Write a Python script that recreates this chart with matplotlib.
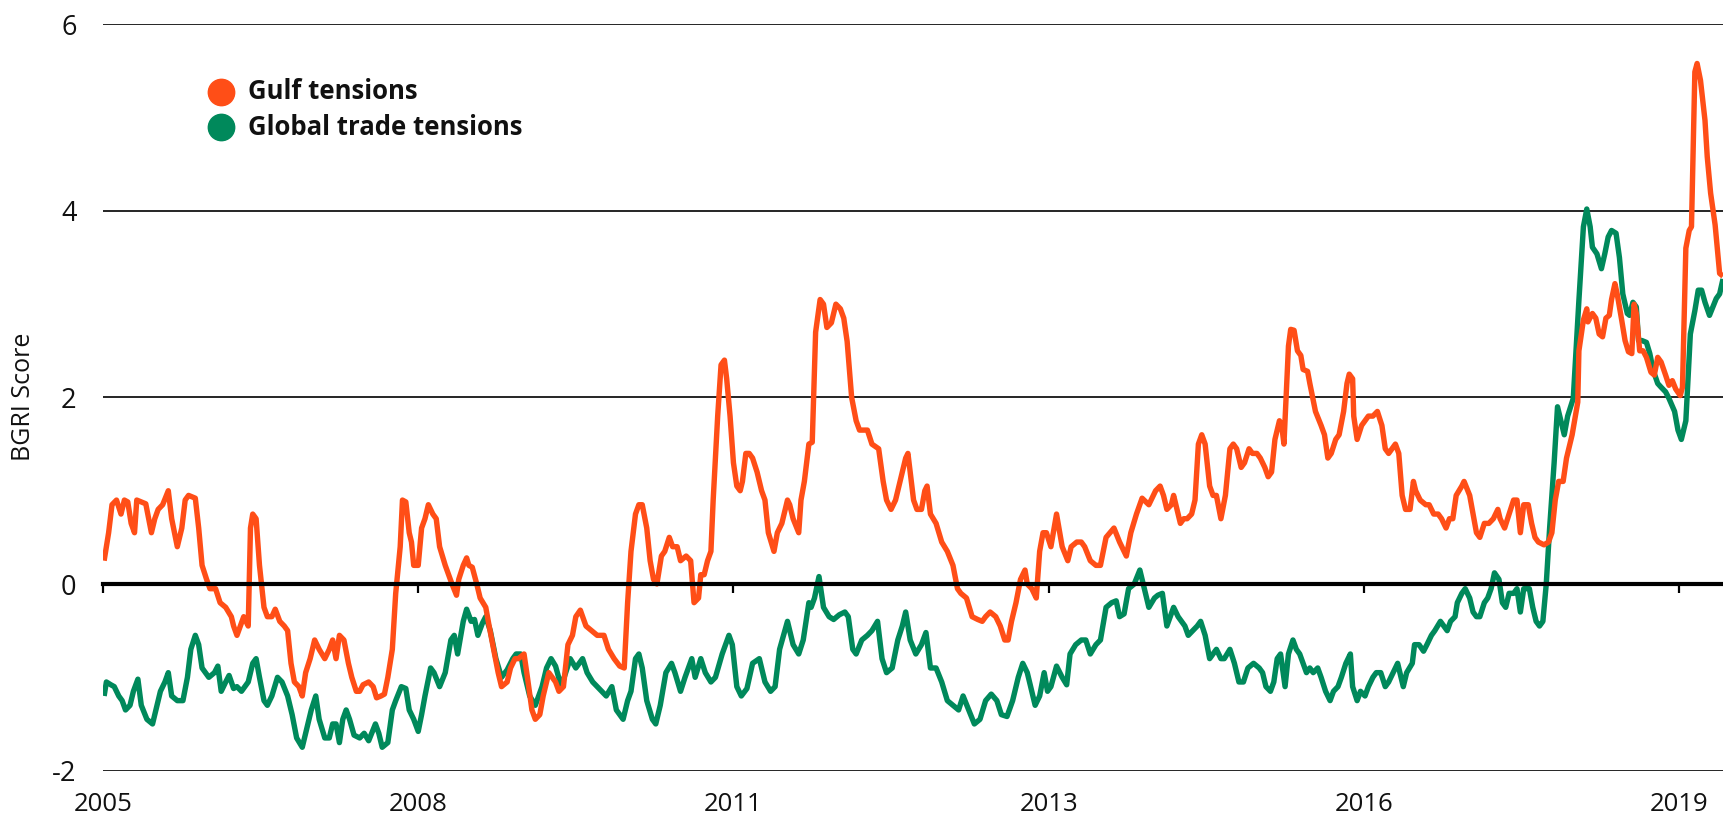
import matplotlib
matplotlib.use("Agg")
import matplotlib.pyplot as plt
from matplotlib.transforms import blended_transform_factory

plt.rcParams['font.family'] = ['Open Sans', 'DejaVu Sans']

# ---------------- data ----------------
series_names = ["Gulf tensions", "Global trade tensions"]
series_colors = ["#FF4E17", "#00895B"]

gulf_years = [
    2005.01, 2005.05, 2005.08, 2005.12, 2005.16, 2005.19, 2005.22, 2005.25, 2005.28, 2005.30,
    2005.34, 2005.38, 2005.43, 2005.46, 2005.49, 2005.53, 2005.58, 2005.61, 2005.66, 2005.70,
    2005.73, 2005.76, 2005.82, 2005.85, 2005.88, 2005.92, 2005.95, 2006.00, 2006.04, 2006.09,
    2006.14, 2006.16, 2006.19, 2006.22, 2006.25, 2006.29, 2006.31, 2006.33, 2006.36, 2006.39,
    2006.43, 2006.46, 2006.50, 2006.53, 2006.57, 2006.61, 2006.64, 2006.67, 2006.70, 2006.74,
    2006.77, 2006.80, 2006.84, 2006.88, 2006.92, 2006.97, 2007.01, 2007.04, 2007.07, 2007.10,
    2007.14, 2007.18, 2007.21, 2007.25, 2007.28, 2007.31, 2007.36, 2007.40, 2007.43, 2007.47,
    2007.50, 2007.53, 2007.57, 2007.60, 2007.64, 2007.66, 2007.69, 2007.72, 2007.74, 2007.76,
    2007.80, 2007.83, 2007.86, 2007.89, 2007.93, 2007.96, 2007.99, 2008.04, 2008.10, 2008.14,
    2008.16, 2008.20, 2008.23, 2008.25, 2008.28, 2008.32, 2008.35, 2008.40, 2008.43, 2008.47,
    2008.51, 2008.54, 2008.59, 2008.62, 2008.66, 2008.69, 2008.74, 2008.77, 2008.81, 2008.84,
    2008.88, 2008.91, 2008.96, 2009.02, 2009.05, 2009.09, 2009.13, 2009.17, 2009.20, 2009.24,
    2009.29, 2009.34, 2009.39, 2009.45, 2009.49, 2009.54, 2009.59, 2009.63, 2009.66, 2009.69,
    2009.73, 2009.76, 2009.79, 2009.83, 2009.86, 2009.89, 2009.92, 2009.96, 2009.99, 2010.03,
    2010.06, 2010.10, 2010.13, 2010.18, 2010.22, 2010.25, 2010.29, 2010.31, 2010.34, 2010.37,
    2010.40, 2010.42, 2010.46, 2010.49, 2010.52, 2010.54, 2010.57, 2010.60, 2010.63, 2010.66,
    2010.68, 2010.71, 2010.74, 2010.77, 2010.81, 2010.85, 2010.88, 2010.91, 2010.96, 2010.99,
    2011.03, 2011.08, 2011.10, 2011.13, 2011.18, 2011.20, 2011.23, 2011.27, 2011.30, 2011.33,
    2011.37, 2011.40, 2011.43, 2011.47, 2011.51, 2011.55, 2011.58, 2011.61, 2011.65, 2011.69,
    2011.72, 2011.79, 2011.83, 2011.89, 2011.93, 2011.96, 2012.00, 2012.04, 2012.08, 2012.13,
    2012.15, 2012.18, 2012.20, 2012.23, 2012.27, 2012.30, 2012.32, 2012.35, 2012.40, 2012.45,
    2012.50, 2012.55, 2012.59, 2012.62, 2012.67, 2012.72, 2012.77, 2012.81, 2012.84, 2012.88,
    2012.93, 2012.97, 2013.01, 2013.04, 2013.07, 2013.11, 2013.15, 2013.19, 2013.21, 2013.25,
    2013.29, 2013.32, 2013.35, 2013.38, 2013.42, 2013.47, 2013.52, 2013.57, 2013.60, 2013.65,
    2013.69, 2013.72, 2013.77, 2013.82, 2013.86, 2013.91, 2013.98, 2014.03, 2014.09, 2014.13,
    2014.18, 2014.23, 2014.29, 2014.35, 2014.39, 2014.42, 2014.45, 2014.49, 2014.51, 2014.53,
    2014.57, 2014.60, 2014.63, 2014.67, 2014.70, 2014.73, 2014.76, 2014.79, 2014.83, 2014.86,
    2014.89, 2014.93, 2014.97, 2015.01, 2015.04, 2015.07, 2015.11, 2015.14, 2015.18, 2015.21,
    2015.25, 2015.28, 2015.32, 2015.35, 2015.38, 2015.41, 2015.45, 2015.47, 2015.49, 2015.53,
    2015.55, 2015.58, 2015.61, 2015.64, 2015.66, 2015.70, 2015.72, 2015.77, 2015.82, 2015.85,
    2015.88, 2015.91, 2015.95, 2015.98, 2016.02, 2016.05, 2016.07, 2016.10, 2016.11, 2016.14,
    2016.18, 2016.21, 2016.24, 2016.28, 2016.32, 2016.36, 2016.39, 2016.42, 2016.45, 2016.48,
    2016.51, 2016.54, 2016.57, 2016.61, 2016.64, 2016.66, 2016.70, 2016.75, 2016.78, 2016.82,
    2016.86, 2016.89, 2016.93, 2016.96, 2016.99, 2017.02, 2017.07, 2017.09, 2017.14, 2017.17,
    2017.20, 2017.23, 2017.27, 2017.31, 2017.35, 2017.39, 2017.41, 2017.45, 2017.49, 2017.53,
    2017.56, 2017.59, 2017.62, 2017.66, 2017.69, 2017.72, 2017.75, 2017.80, 2017.84, 2017.87,
    2017.90, 2017.93, 2017.97, 2018.00, 2018.05, 2018.10, 2018.11, 2018.15, 2018.18, 2018.19,
    2018.23, 2018.26, 2018.29, 2018.32, 2018.35, 2018.38, 2018.40, 2018.43, 2018.45, 2018.49,
    2018.52, 2018.55, 2018.58, 2018.60, 2018.62, 2018.65, 2018.68, 2018.71, 2018.75, 2018.78,
    2018.81, 2018.84, 2018.88, 2018.91, 2018.94, 2018.97, 2019.01, 2019.03, 2019.06, 2019.09,
    2019.11, 2019.14, 2019.16, 2019.19, 2019.21, 2019.23, 2019.25, 2019.28, 2019.32, 2019.36,
    2019.39,
]
gulf_values = [
    0.25, 0.55, 0.85, 0.90, 0.75, 0.90, 0.88, 0.65, 0.55, 0.90,
    0.88, 0.86, 0.55, 0.70, 0.80, 0.85, 1.00, 0.70, 0.40, 0.60,
    0.90, 0.95, 0.92, 0.60, 0.20, 0.05, -0.05, -0.05, -0.20, -0.25,
    -0.35, -0.45, -0.55, -0.45, -0.35, -0.45, 0.60, 0.75, 0.70, 0.20,
    -0.25, -0.35, -0.35, -0.27, -0.40, -0.45, -0.50, -0.85, -1.05, -1.10,
    -1.20, -0.95, -0.80, -0.60, -0.70, -0.80, -0.70, -0.60, -0.80, -0.55,
    -0.60, -0.85, -1.00, -1.15, -1.15, -1.08, -1.05, -1.10, -1.22, -1.20,
    -1.18, -1.00, -0.70, -0.10, 0.40, 0.90, 0.88, 0.55, 0.45, 0.20,
    0.20, 0.60, 0.70, 0.85, 0.75, 0.70, 0.40, 0.20, 0.00, -0.12,
    0.05, 0.20, 0.28, 0.20, 0.18, 0.00, -0.15, -0.25, -0.45, -0.70,
    -0.95, -1.10, -1.05, -0.90, -0.80, -0.80, -0.75, -1.00, -1.35, -1.45,
    -1.40, -1.20, -0.95, -1.05, -1.15, -1.10, -0.65, -0.55, -0.35, -0.28,
    -0.45, -0.50, -0.55, -0.55, -0.70, -0.80, -0.88, -0.90, -0.20, 0.35,
    0.75, 0.85, 0.85, 0.60, 0.25, 0.05, 0.00, 0.30, 0.35, 0.50,
    0.40, 0.40, 0.25, 0.30, 0.25, -0.20, -0.15, 0.10, 0.10, 0.25,
    0.35, 0.90, 1.80, 2.35, 2.40, 2.20, 1.80, 1.30, 1.05, 1.00,
    1.10, 1.40, 1.40, 1.35, 1.20, 1.00, 0.90, 0.55, 0.35, 0.55,
    0.65, 0.90, 0.85, 0.70, 0.55, 0.90, 1.10, 1.50, 1.52, 2.70,
    3.05, 3.00, 2.75, 2.80, 3.00, 2.95, 2.85, 2.60, 2.00, 1.75,
    1.65, 1.65, 1.50, 1.45, 1.10, 0.90, 0.80, 0.90, 1.10, 1.35,
    1.40, 1.10, 0.90, 0.80, 0.80, 1.00, 1.05, 0.75, 0.65, 0.45,
    0.35, 0.20, -0.05, -0.10, -0.15, -0.35, -0.38, -0.40, -0.35, -0.30,
    -0.35, -0.45, -0.60, -0.60, -0.40, -0.20, 0.05, 0.15, 0.00, -0.05,
    -0.15, 0.35, 0.55, 0.55, 0.40, 0.75, 0.40, 0.25, 0.40, 0.45,
    0.45, 0.40, 0.25, 0.20, 0.20, 0.50, 0.60, 0.45, 0.30, 0.55,
    0.75, 0.92, 0.85, 1.00, 1.05, 0.95, 0.80, 0.85, 0.95, 0.85,
    0.65, 0.70, 0.70, 0.75, 0.90, 1.50, 1.60, 1.50, 1.05, 0.95,
    0.95, 0.70, 0.95, 1.45, 1.50, 1.45, 1.25, 1.30, 1.45, 1.40,
    1.40, 1.35, 1.25, 1.15, 1.20, 1.55, 1.75, 1.70, 1.50, 2.55,
    2.73, 2.72, 2.50, 2.45, 2.30, 2.28, 2.15, 1.85, 1.70, 1.60,
    1.35, 1.40, 1.55, 1.60, 1.85, 2.15, 2.25, 2.20, 1.80, 1.55,
    1.70, 1.75, 1.80, 1.80, 1.85, 1.70, 1.45, 1.40, 1.45, 1.50,
    1.40, 0.95, 0.80, 0.80, 1.10, 1.00, 0.90, 0.85, 0.85, 0.75,
    0.75, 0.70, 0.60, 0.70, 0.70, 0.95, 1.05, 1.10, 0.95, 0.75,
    0.55, 0.50, 0.65, 0.65, 0.70, 0.80, 0.70, 0.60, 0.75, 0.90,
    0.90, 0.55, 0.85, 0.85, 0.65, 0.50, 0.45, 0.42, 0.45, 0.55,
    0.90, 1.10, 1.10, 1.35, 1.60, 1.95, 2.50, 2.83, 2.95, 2.81,
    2.90, 2.85, 2.68, 2.65, 2.85, 2.88, 3.05, 3.22, 3.11, 2.83,
    2.61, 2.49, 2.47, 3.00, 2.90, 2.50, 2.50, 2.43, 2.27, 2.24,
    2.43, 2.38, 2.24, 2.13, 2.18, 2.09, 2.02, 2.11, 3.60, 3.79,
    3.83, 5.49, 5.58, 5.40, 5.19, 4.97, 4.58, 4.19, 3.85, 3.33,
    3.30,
]

trade_years = [
    2005.01, 2005.03, 2005.07, 2005.10, 2005.14, 2005.17, 2005.20, 2005.24, 2005.27, 2005.31,
    2005.34, 2005.39, 2005.44, 2005.48, 2005.51, 2005.55, 2005.58, 2005.61, 2005.66, 2005.71,
    2005.75, 2005.78, 2005.82, 2005.85, 2005.88, 2005.94, 2005.99, 2006.02, 2006.05, 2006.09,
    2006.12, 2006.16, 2006.19, 2006.23, 2006.26, 2006.29, 2006.33, 2006.36, 2006.39, 2006.43,
    2006.46, 2006.50, 2006.55, 2006.59, 2006.64, 2006.68, 2006.72, 2006.77, 2006.80, 2006.85,
    2006.89, 2006.92, 2006.97, 2007.01, 2007.04, 2007.07, 2007.10, 2007.13, 2007.16, 2007.19,
    2007.23, 2007.28, 2007.32, 2007.36, 2007.42, 2007.45, 2007.48, 2007.53, 2007.57, 2007.60,
    2007.65, 2007.69, 2007.72, 2007.76, 2007.80, 2007.83, 2007.86, 2007.91, 2007.94, 2007.99,
    2008.04, 2008.09, 2008.12, 2008.15, 2008.20, 2008.23, 2008.27, 2008.30, 2008.33, 2008.37,
    2008.40, 2008.44, 2008.49, 2008.54, 2008.59, 2008.64, 2008.67, 2008.71, 2008.74, 2008.79,
    2008.84, 2008.90, 2008.94, 2008.98, 2009.02, 2009.07, 2009.11, 2009.15, 2009.20, 2009.26,
    2009.30, 2009.35, 2009.39, 2009.47, 2009.52, 2009.56, 2009.62, 2009.66, 2009.69, 2009.73,
    2009.76, 2009.79, 2009.83, 2009.88, 2009.91, 2009.95, 2010.00, 2010.05, 2010.08, 2010.13,
    2010.17, 2010.23, 2010.26, 2010.31, 2010.35, 2010.40, 2010.44, 2010.50, 2010.56, 2010.59,
    2010.63, 2010.67, 2010.72, 2010.77, 2010.83, 2010.88, 2010.93, 2010.97, 2011.01, 2011.08,
    2011.13, 2011.18, 2011.22, 2011.27, 2011.29, 2011.32, 2011.36, 2011.40, 2011.45, 2011.49,
    2011.54, 2011.59, 2011.62, 2011.66, 2011.69, 2011.74, 2011.79, 2011.83, 2011.88, 2011.92,
    2011.96, 2012.01, 2012.06, 2012.10, 2012.13, 2012.17, 2012.22, 2012.27, 2012.31, 2012.35,
    2012.40, 2012.45, 2012.50, 2012.55, 2012.60, 2012.64, 2012.69, 2012.74, 2012.79, 2012.84,
    2012.89, 2012.94, 2012.98, 2013.03, 2013.08, 2013.13, 2013.17, 2013.21, 2013.25, 2013.28,
    2013.32, 2013.36, 2013.39, 2013.42, 2013.47, 2013.52, 2013.56, 2013.59, 2013.64, 2013.69,
    2013.73, 2013.77, 2013.82, 2013.86, 2013.91, 2013.96, 2014.00, 2014.03, 2014.07, 2014.11,
    2014.16, 2014.21, 2014.25, 2014.29, 2014.34, 2014.37, 2014.41, 2014.45, 2014.48, 2014.51,
    2014.55, 2014.58, 2014.61, 2014.64, 2014.68, 2014.72, 2014.75, 2014.79, 2014.83, 2014.86,
    2014.89, 2014.93, 2014.96, 2015.01, 2015.05, 2015.09, 2015.13, 2015.17, 2015.22, 2015.27,
    2015.30, 2015.33, 2015.37, 2015.40, 2015.43, 2015.46, 2015.50, 2015.53, 2015.57, 2015.60,
    2015.63, 2015.66, 2015.69, 2015.72, 2015.75, 2015.79, 2015.82, 2015.86, 2015.90, 2015.93,
    2015.97, 2016.00, 2016.04, 2016.08, 2016.10, 2016.14, 2016.17, 2016.21, 2016.24, 2016.28,
    2016.31, 2016.35, 2016.39, 2016.42, 2016.46, 2016.50, 2016.55, 2016.58, 2016.63, 2016.65,
    2016.69, 2016.73, 2016.76, 2016.80, 2016.83, 2016.88, 2016.91, 2016.94, 2016.97, 2017.01,
    2017.03, 2017.07, 2017.10, 2017.14, 2017.17, 2017.20, 2017.23, 2017.27, 2017.30, 2017.33,
    2017.36, 2017.40, 2017.43, 2017.46, 2017.49, 2017.53, 2017.56, 2017.59, 2017.62, 2017.67,
    2017.70, 2017.73, 2017.76, 2017.79, 2017.82, 2017.85, 2017.89, 2017.92, 2017.95, 2017.98,
    2018.01, 2018.06, 2018.11, 2018.15, 2018.18, 2018.21, 2018.23, 2018.27, 2018.31, 2018.34,
    2018.37, 2018.40, 2018.44, 2018.47, 2018.50, 2018.54, 2018.56, 2018.59, 2018.62, 2018.64,
    2018.67, 2018.71, 2018.74, 2018.77, 2018.81, 2018.84, 2018.88, 2018.91, 2018.96, 2018.99,
    2019.02, 2019.06, 2019.10, 2019.14, 2019.17, 2019.20, 2019.23, 2019.27, 2019.30, 2019.33,
    2019.36, 2019.39,
]
trade_values = [
    -1.20, -1.05, -1.08, -1.10, -1.20, -1.25, -1.35, -1.30, -1.15, -1.02,
    -1.30, -1.45, -1.50, -1.30, -1.15, -1.05, -0.95, -1.20, -1.25, -1.25,
    -1.00, -0.70, -0.55, -0.65, -0.90, -1.00, -0.95, -0.88, -1.15, -1.05,
    -0.98, -1.12, -1.10, -1.15, -1.10, -1.05, -0.85, -0.80, -1.00, -1.25,
    -1.30, -1.20, -1.00, -1.05, -1.20, -1.40, -1.65, -1.75, -1.60, -1.35,
    -1.20, -1.45, -1.65, -1.65, -1.50, -1.50, -1.70, -1.45, -1.35, -1.45,
    -1.62, -1.65, -1.60, -1.68, -1.50, -1.60, -1.75, -1.70, -1.35, -1.25,
    -1.10, -1.12, -1.35, -1.45, -1.58, -1.40, -1.20, -0.90, -0.95, -1.10,
    -0.95, -0.60, -0.55, -0.75, -0.40, -0.27, -0.40, -0.38, -0.55, -0.42,
    -0.35, -0.50, -0.80, -1.00, -0.92, -0.80, -0.75, -0.75, -0.95, -1.20,
    -1.30, -1.10, -0.90, -0.80, -0.88, -1.10, -0.95, -0.80, -0.90, -0.80,
    -0.95, -1.05, -1.10, -1.20, -1.10, -1.35, -1.45, -1.25, -1.15, -0.80,
    -0.75, -0.90, -1.25, -1.45, -1.50, -1.30, -0.95, -0.85, -0.95, -1.15,
    -1.00, -0.80, -1.00, -0.80, -0.95, -1.05, -1.00, -0.75, -0.55, -0.65,
    -1.10, -1.20, -1.12, -0.85, -0.80, -1.05, -1.15, -1.10, -0.70, -0.40,
    -0.65, -0.75, -0.60, -0.20, -0.25, -0.15, 0.08, -0.25, -0.35, -0.38,
    -0.33, -0.30, -0.35, -0.70, -0.75, -0.60, -0.55, -0.50, -0.40, -0.80,
    -0.95, -0.90, -0.60, -0.45, -0.30, -0.60, -0.75, -0.65, -0.52, -0.90,
    -0.90, -1.05, -1.25, -1.30, -1.35, -1.20, -1.35, -1.50, -1.45, -1.25,
    -1.18, -1.25, -1.40, -1.42, -1.25, -1.00, -0.85, -0.95, -1.15, -1.30,
    -1.20, -0.95, -1.15, -1.10, -0.88, -1.00, -1.08, -0.75, -0.65, -0.60,
    -0.60, -0.75, -0.65, -0.60, -0.25, -0.20, -0.18, -0.35, -0.32, -0.05,
    0.00, 0.15, -0.05, -0.25, -0.15, -0.12, -0.10, -0.45, -0.35, -0.25,
    -0.35, -0.40, -0.45, -0.55, -0.50, -0.45, -0.40, -0.55, -0.80, -0.75,
    -0.70, -0.80, -0.80, -0.70, -0.85, -1.05, -1.05, -0.90, -0.85, -0.90,
    -0.95, -1.10, -1.15, -1.05, -0.80, -0.75, -1.10, -0.75, -0.60, -0.70,
    -0.75, -0.85, -0.95, -0.90, -0.95, -0.90, -1.00, -1.15, -1.25, -1.15,
    -1.10, -1.00, -0.85, -0.75, -1.10, -1.25, -1.15, -1.20, -1.10, -1.00,
    -0.95, -0.95, -1.10, -1.05, -0.95, -0.85, -1.10, -0.95, -0.85, -0.65,
    -0.65, -0.72, -0.65, -0.55, -0.50, -0.40, -0.45, -0.50, -0.40, -0.35,
    -0.20, -0.10, -0.05, -0.15, -0.30, -0.35, -0.35, -0.20, -0.15, -0.05,
    0.12, 0.05, -0.20, -0.25, -0.10, -0.10, -0.05, -0.30, -0.05, -0.05,
    -0.25, -0.40, -0.45, -0.40, 0.00, 0.60, 1.30, 1.90, 1.75, 1.60,
    1.80, 1.99, 3.04, 3.83, 4.02, 3.83, 3.61, 3.54, 3.38, 3.54,
    3.72, 3.79, 3.76, 3.50, 3.11, 2.90, 2.88, 3.02, 2.97, 2.61,
    2.61, 2.59, 2.47, 2.29, 2.15, 2.11, 2.06, 1.99, 1.85, 1.65,
    1.55, 1.75, 2.68, 2.93, 3.15, 3.15, 3.02, 2.88, 2.97, 3.06,
    3.11, 3.27,
]

tick_years = [2005.0, 2007.8, 2010.6, 2013.4, 2016.2, 2019.0]
tick_labels = ["2005", "2008", "2011", "2013", "2016", "2019"]
y_ticks = [-2, 0, 2, 4, 6]
y_tick_labels = ["-2", "0", "2", "4", "6"]
y_title = "BGRI Score"

# ---------------- figure ----------------
W, H = 1723, 818
fig = plt.figure(figsize=(W / 100, H / 100), dpi=100)
ax_left, ax_right, ax_top, ax_bottom = 103, 1723, 24.3, 770.6
ax = fig.add_axes([ax_left / W, 1 - ax_bottom / H,
                   (ax_right - ax_left) / W, (ax_bottom - ax_top) / H])

ax.plot(trade_years, trade_values, color=series_colors[1], lw=3.9,
        solid_joinstyle='round', solid_capstyle='butt', zorder=2)
ax.plot(gulf_years, gulf_values, color=series_colors[0], lw=3.9,
        solid_joinstyle='round', solid_capstyle='butt', zorder=2.1)

ax.set_xlim(2005.0, 2019.39)
ax.set_ylim(-2, 6)

# gridlines
ax.set_yticks(y_ticks)
ax.set_yticklabels(y_tick_labels)
ax.yaxis.grid(True, color='black', lw=1.2)
ax.set_axisbelow(True)
ax.tick_params(axis='y', length=0, pad=19, labelsize=19.5, labelcolor='#111111')

for s in ['left', 'right', 'top']:
    ax.spines[s].set_visible(False)
ax.spines['bottom'].set_position(('data', 0))
ax.spines['bottom'].set_linewidth(3.0)
ax.spines['bottom'].set_color('black')
ax.spines['bottom'].set_zorder(3)

ax.set_xticks(tick_years)
ax.tick_params(axis='x', direction='out', length=6.5, width=1.6, color='black',
               labelbottom=False)

# x tick labels sit at the bottom of the chart, below the -2 gridline
trans = blended_transform_factory(ax.transData, ax.transAxes)
for xv, lab in zip(tick_years, tick_labels):
    ax.text(xv, -0.0535, lab, transform=trans, ha='center', va='baseline',
            fontsize=18.5, color='#111111', clip_on=False)

fig.text(24 / W, 1 - 397 / H, y_title, rotation=90, ha='center', va='center',
         fontsize=18, color='#111111')

# legend (manual)
leg_pos = [(0.0728, 0.9093), (0.0728, 0.8623)]
for (lx, ly), name, col in zip(leg_pos, series_names, series_colors):
    ax.plot([lx], [ly], 'o', ms=19, color=col, transform=ax.transAxes,
            clip_on=False, zorder=5)
    ax.text(lx + 0.0167, ly, name, transform=ax.transAxes, ha='left', va='center',
            fontsize=18.5, fontweight='bold', color='#111111', zorder=5)

fig.savefig("out.png", dpi=100)
